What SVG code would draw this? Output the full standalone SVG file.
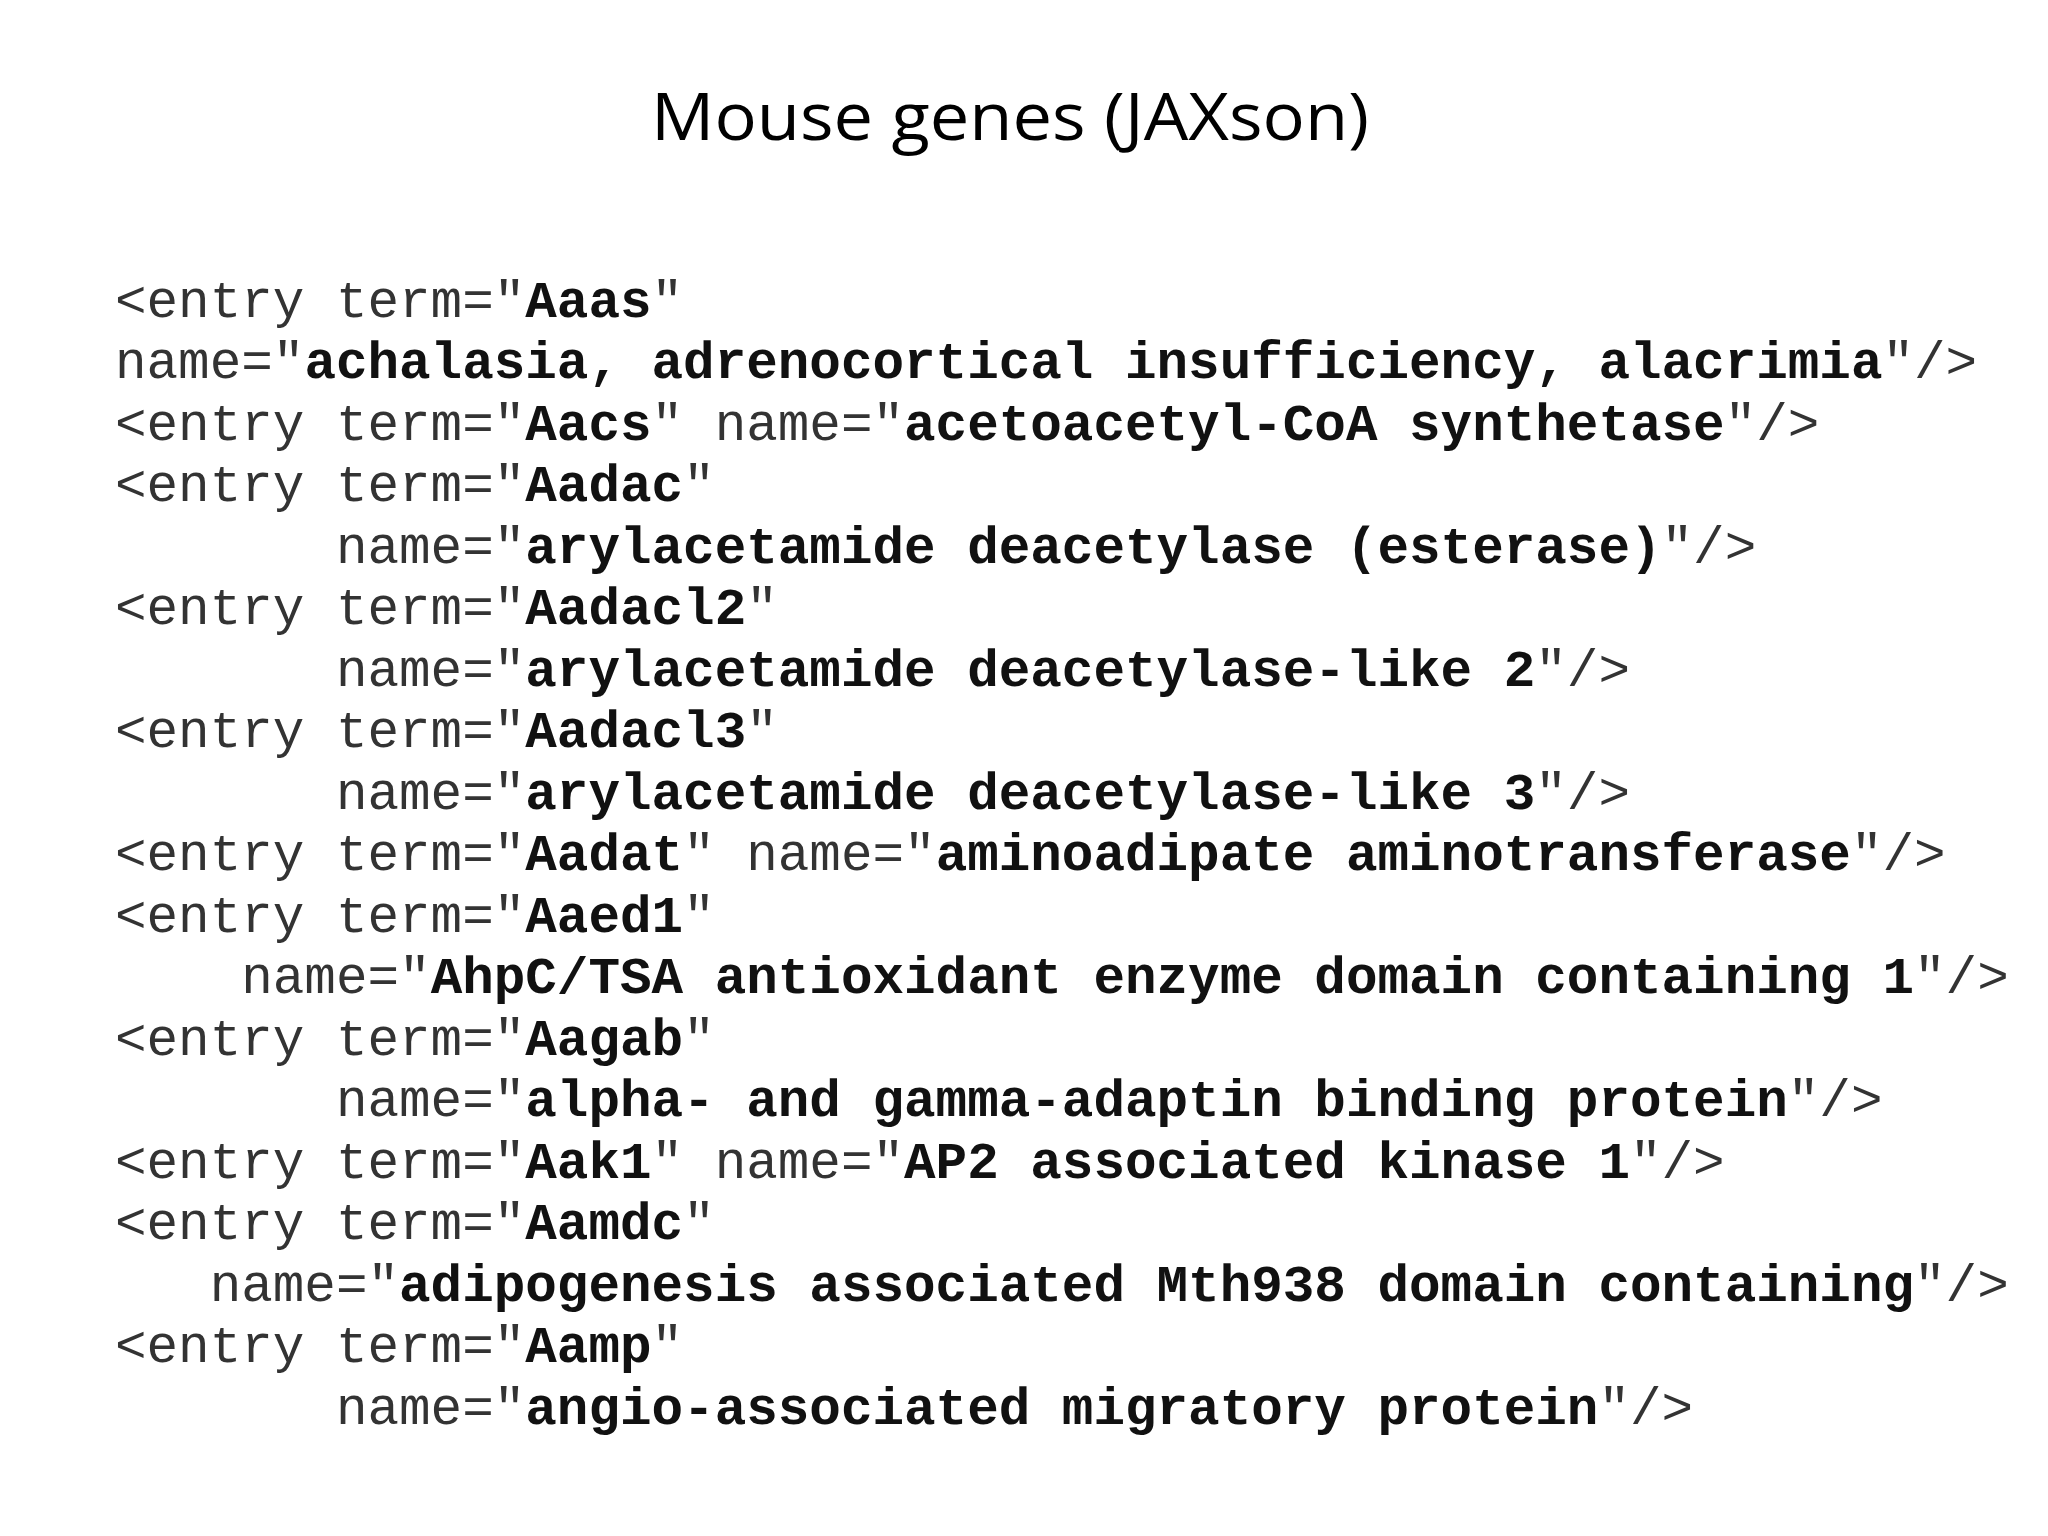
<svg xmlns="http://www.w3.org/2000/svg" width="2048" height="1536" viewBox="0 0 2048 1536">
<style>
.t{font-family:"Liberation Mono","Courier New",monospace;font-size:52.6px;fill:#333;white-space:pre}
.b{font-weight:bold;fill:#111}
.h{font-family:"Open Sans","Liberation Sans",sans-serif;font-size:66px;fill:#000}
</style>
<rect width="2048" height="1536" fill="#fff"/>
<text class="h" x="1010" y="140" text-anchor="middle" textLength="718" lengthAdjust="spacingAndGlyphs">Mouse genes (JAXson)</text>
<g>
<text class="t" x="115" y="317">&lt;entry term="<tspan class="b">Aaas</tspan>"</text>
<text class="t" x="115" y="378">name="<tspan class="b">achalasia, adrenocortical insufficiency, alacrimia</tspan>"/&gt;</text>
<text class="t" x="115" y="440">&lt;entry term="<tspan class="b">Aacs</tspan>" name="<tspan class="b">acetoacetyl-CoA synthetase</tspan>"/&gt;</text>
<text class="t" x="115" y="501">&lt;entry term="<tspan class="b">Aadac</tspan>"</text>
<text class="t" x="115" y="563">       name="<tspan class="b">arylacetamide deacetylase (esterase)</tspan>"/&gt;</text>
<text class="t" x="115" y="624">&lt;entry term="<tspan class="b">Aadacl2</tspan>"</text>
<text class="t" x="115" y="686">       name="<tspan class="b">arylacetamide deacetylase-like 2</tspan>"/&gt;</text>
<text class="t" x="115" y="747">&lt;entry term="<tspan class="b">Aadacl3</tspan>"</text>
<text class="t" x="115" y="809">       name="<tspan class="b">arylacetamide deacetylase-like 3</tspan>"/&gt;</text>
<text class="t" x="115" y="870">&lt;entry term="<tspan class="b">Aadat</tspan>" name="<tspan class="b">aminoadipate aminotransferase</tspan>"/&gt;</text>
<text class="t" x="115" y="932">&lt;entry term="<tspan class="b">Aaed1</tspan>"</text>
<text class="t" x="115" y="993">    name="<tspan class="b">AhpC/TSA antioxidant enzyme domain containing 1</tspan>"/&gt;</text>
<text class="t" x="115" y="1055">&lt;entry term="<tspan class="b">Aagab</tspan>"</text>
<text class="t" x="115" y="1116">       name="<tspan class="b">alpha- and gamma-adaptin binding protein</tspan>"/&gt;</text>
<text class="t" x="115" y="1178">&lt;entry term="<tspan class="b">Aak1</tspan>" name="<tspan class="b">AP2 associated kinase 1</tspan>"/&gt;</text>
<text class="t" x="115" y="1239">&lt;entry term="<tspan class="b">Aamdc</tspan>"</text>
<text class="t" x="115" y="1301">   name="<tspan class="b">adipogenesis associated Mth938 domain containing</tspan>"/&gt;</text>
<text class="t" x="115" y="1362">&lt;entry term="<tspan class="b">Aamp</tspan>"</text>
<text class="t" x="115" y="1424">       name="<tspan class="b">angio-associated migratory protein</tspan>"/&gt;</text>
</g>
</svg>
